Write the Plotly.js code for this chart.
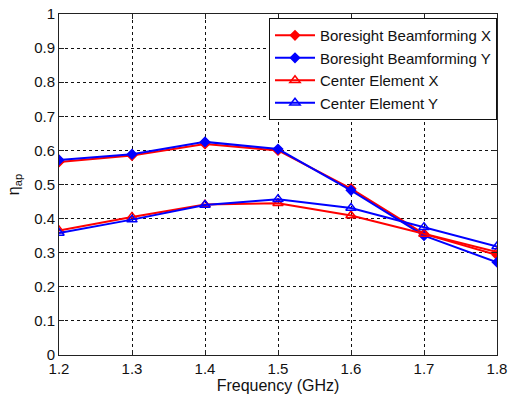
<!DOCTYPE html>
<html><head><meta charset="utf-8">
<script src="https://cdn.plot.ly/plotly-3.0.1.min.js"></script>
<style>html,body{margin:0;padding:0;background:#fff}#c{width:508px;height:402px}</style>
</head><body><div id="c"></div>
<script>
const freq = [1.2, 1.3, 1.4, 1.5, 1.6, 1.7, 1.8];
const boresightX = [0.566, 0.585, 0.619, 0.600, 0.488, 0.355, 0.293];
const boresightY = [0.572, 0.589, 0.625, 0.604, 0.483, 0.350, 0.272];
const centerX = [0.365, 0.405, 0.441, 0.445, 0.409, 0.355, 0.302];
const centerY = [0.358, 0.397, 0.440, 0.457, 0.431, 0.375, 0.318];
const names = ["Boresight Beamforming X", "Boresight Beamforming Y", "Center Element X", "Center Element Y"];

const F = "Liberation Sans, Arial, sans-serif";
function tr(y, name, color, sym) {
  return {x: freq, y: y, name: name, type: 'scatter', mode: 'lines+markers',
    line: {color: color, width: 2},
    marker: {symbol: sym, size: sym === 'diamond' ? 7 : 9, color: color,
             line: {color: color, width: 1.5}}};
}
const data = [
  tr(boresightX, names[0], '#ff0000', 'diamond'),
  tr(boresightY, names[1], '#0000ff', 'diamond'),
  tr(centerX, names[2], '#ff0000', 'triangle-up-open'),
  tr(centerY, names[3], '#0000ff', 'triangle-up-open')
];
const ax = {
  showline: true, linecolor: '#222', linewidth: 1, mirror: 'ticks',
  ticks: 'inside', ticklen: 5, tickcolor: '#222',
  showgrid: true, gridcolor: '#111', griddash: 'dot', gridwidth: 1,
  zeroline: false, tickfont: {family: F, size: 15, color: '#111'}
};
const layout = {
  width: 508, height: 402,
  margin: {l: 59, r: 11, t: 14, b: 47},
  paper_bgcolor: '#fff', plot_bgcolor: '#fff',
  font: {family: F, size: 15, color: '#111'},
  xaxis: Object.assign({}, ax, {range: [1.2, 1.8], dtick: 0.1, tick0: 1.2,
    title: {text: 'Frequency (GHz)', font: {family: F, size: 16, color: '#111'}, standoff: 1}}),
  yaxis: Object.assign({}, ax, {range: [0, 1], dtick: 0.1, tick0: 0,
    title: {text: 'η<sub>ap</sub>', font: {family: F, size: 16, color: '#111'}, standoff: 10}}),
  legend: {x: 1, xanchor: 'right', y: 0.988, yanchor: 'top',
    bgcolor: '#fff', bordercolor: '#111', borderwidth: 1,
    font: {family: F, size: 15, color: '#111'}, tracegroupgap: 0, itemwidth: 40},
  showlegend: true
};
Plotly.newPlot('c', data, layout, {displayModeBar: false, staticPlot: true});
</script></body></html>
